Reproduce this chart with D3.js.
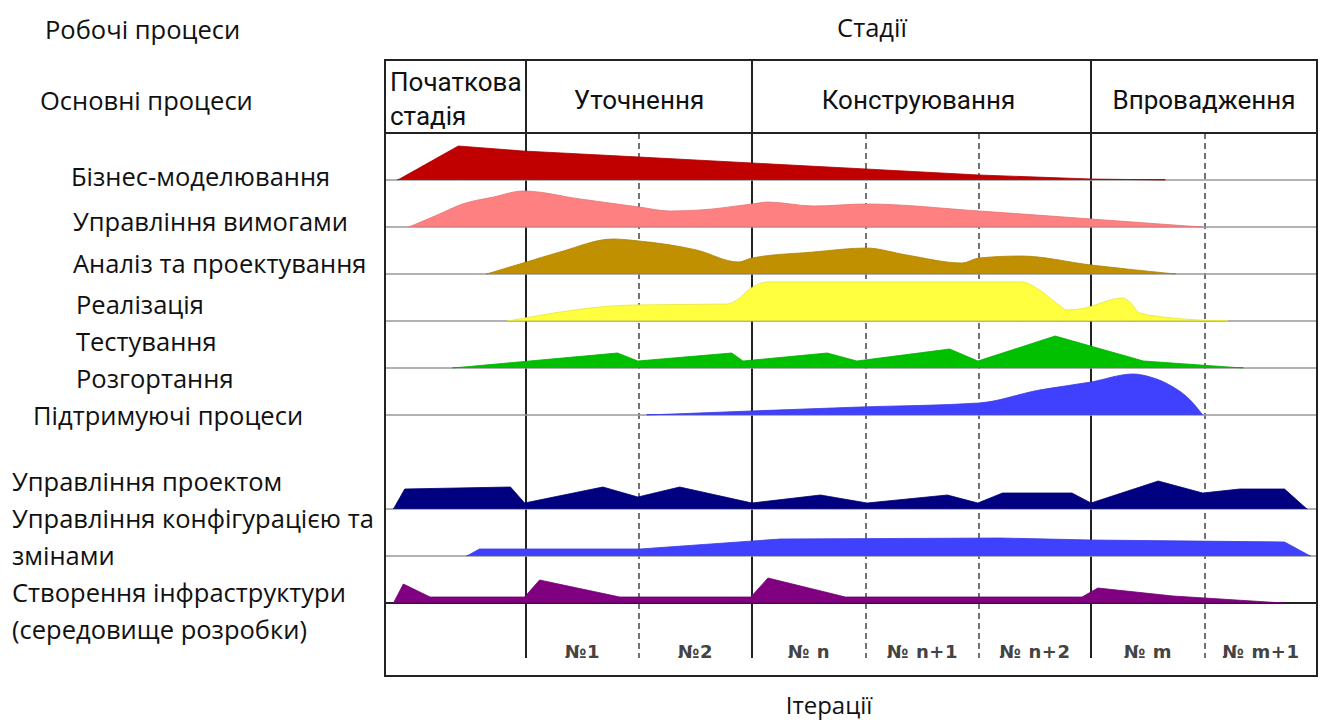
<!DOCTYPE html>
<html><head><meta charset="utf-8">
<script src="https://cdn.jsdelivr.net/npm/d3@7"></script>
<style>body{margin:0;background:#fff}svg{display:block}</style>
</head><body>
<script>
// ---------- DATA ----------
const phases = ["Початкова|стадія", "Уточнення", "Конструювання", "Впровадження"];
const phaseSpans = [[0,1],[1,3],[3,6],[6,8]];           // in iteration units
const iterations = ["", "№1", "№2", "№ n", "№ n+1", "№ n+2", "№ m", "№ m+1"];
const iterationDashed = [2,4,5,7];                       // iteration boundaries inside phases

const disciplines = ["Бізнес-моделювання","Управління вимогами","Аналіз та проектування",
  "Реалізація","Тестування","Розгортання","Управління проектом",
  "Управління конфігурацією та|змінами","Створення інфраструктури|(середовище розробки)"];

// effort profiles: [time (iteration units), effort]
const businessModeling = [[0.09,0],[0.52,34],[0.98,29],[2,23],[3,17],[4,11],[5,5],[6,1],[6.65,0]];
const requirements = [[0.17,0],[0.37,12],[0.55,23],[0.77,30],[0.98,36],[1.48,28],[2,20],[2.27,16],[2.54,17],[3,23],[3.14,25],[3.54,21],[4,23],[5,16],[6,8],[6.97,0]];
const analysisDesign = [[0.72,0],[0.98,11],[1.3,22],[1.77,35],[2,33],[2.51,24],[2.88,12],[3,16],[3.54,22],[4,26],[4.36,19],[4.85,11],[5,16],[5.37,18],[6,9],[6.74,0]];
const implementation = [[0.87,0],[1.95,16],[2.78,17],[2.88,22],[2.98,32],[3.14,39],[5.38,39],[5.54,31],[5.69,18],[5.79,11],[5.9,12],[6.28,23],[6.34,19],[6.43,8],[6.72,3],[7.2,0]];
const testing = [[0.48,0],[1.81,15],[1.99,7],[2.82,15],[2.92,7],[3.66,15],[3.92,7],[4.74,19],[4.99,7],[5.68,32],[6.46,7],[7.34,0]];
const deployment = [[2.07,0],[3.95,8],[5,12],[5.54,25],[6,33],[6.37,41],[6.52,38],[6.69,30],[6.87,15],[6.98,0]];
const projectMgmt = [[0.06,0],[0.14,20],[0.89,22],[0.99,6],[1.68,22],[1.99,12],[2.36,22],[3,6],[3.6,14],[4.01,6],[4.72,14],[4.99,6],[5.21,16],[5.83,16],[6,6],[6.59,28],[6.98,16],[7.31,20],[7.71,20],[7.91,0]];
const configMgmt = [[0.58,0],[0.67,7],[2.01,7],[3.25,17],[5.19,18],[6,16],[7.71,14],[7.94,0]];
const environment = [[0.06,0],[0.13,19],[0.32,6],[0.99,6],[1.12,23],[1.83,6],[2.99,6],[3.14,25],[3.82,6],[5.92,6],[6.06,15],[6.72,7],[7.7,0]];

const profiles = [businessModeling, requirements, analysisDesign, implementation, testing, deployment, projectMgmt, configMgmt, environment];

// ---------- STYLE / LAYOUT ----------
const colors = ["#C00000","#FF8080","#C09000","#FFFF40","#00C000","#4040FF","#000080","#4040FF","#800080"];
const smooth = [false,true,true,true,false,true,false,false,false];
const W = 1325, H = 725;
const xBounds = [385,526,639,752,866,979,1091,1205,1317];
const topY = 60, headerBottom = 133, rowH = 47, gridBottom = 658, boxBottom = 676;
const rowBaseline = i => headerBottom + rowH * (i < 6 ? i + 1 : i + 2);

const svg = d3.select("body").append("svg").attr("width", W).attr("height", H);
const x = d3.scaleLinear().domain(d3.range(9)).range(xBounds);
const h = d3.scaleLinear().domain([0, 40]).range([0, 40]);
const font = "'Open Sans', sans-serif";
const fs = 25.5;

// vertical lines (phase boundaries solid, iteration boundaries dashed)
const g = svg.append("g");
phaseSpans.slice(1).forEach(s => {
  g.append("line").attr("x1", x(s[0])).attr("x2", x(s[0])).attr("y1", topY).attr("y2", gridBottom)
    .attr("stroke", "#222").attr("stroke-width", 2);
});
iterationDashed.forEach(d => {
  g.append("line").attr("x1", x(d)).attr("x2", x(d)).attr("y1", headerBottom).attr("y2", gridBottom)
    .attr("stroke", "#444").attr("stroke-width", 1.5).attr("stroke-dasharray", "6,4");
});

// row baselines
profiles.forEach((p, i) => {
  g.append("line").attr("x1", x(0)).attr("x2", x(8)).attr("y1", rowBaseline(i)).attr("y2", rowBaseline(i))
    .attr("stroke", i === 8 ? "#222" : "#999").attr("stroke-width", i === 8 ? 2 : 1.5);
});

// areas
profiles.forEach((p, i) => {
  const b = rowBaseline(i);
  const area = d3.area().x(d => x(d[0])).y0(b - 0.5).y1(d => b - h(d[1]))
    .curve(smooth[i] ? d3.curveMonotoneX : d3.curveLinear);
  svg.append("path").attr("d", area(p)).attr("fill", colors[i])
    .attr("stroke", d3.color(colors[i]).darker(0.3)).attr("stroke-width", 0.8);
});

// outer box and header line
svg.append("rect").attr("x", x(0)).attr("y", topY).attr("width", x(8) - x(0)).attr("height", boxBottom - topY)
  .attr("fill", "none").attr("stroke", "#222").attr("stroke-width", 2);
svg.append("line").attr("x1", x(0)).attr("x2", x(8)).attr("y1", headerBottom).attr("y2", headerBottom)
  .attr("stroke", "#222").attr("stroke-width", 2);

// phase labels
phases.forEach((name, i) => {
  const s = phaseSpans[i];
  const lines = name.split("|");
  if (lines.length > 1) {
    lines.forEach((ln, k) => svg.append("text").attr("x", x(s[0]) + 5).attr("y", 91 + k * 34)
      .attr("font-family", "Roboto, sans-serif").attr("font-size", 26).attr("fill", "#111").text(ln));
  } else {
    svg.append("text").attr("x", (x(s[0]) + x(s[1])) / 2 - (i === 2 ? 3 : 0)).attr("y", 109).attr("text-anchor", "middle")
      .attr("font-family", "Roboto, sans-serif").attr("font-size", 26).attr("fill", "#111").text(name);
  }
});

// iteration labels
iterations.forEach((t, i) => {
  svg.append("text").attr("x", (x(i) + x(i + 1)) / 2).attr("y", 658).attr("text-anchor", "middle")
    .attr("font-family", "'DejaVu Sans', sans-serif").attr("font-size", 18).attr("font-weight", "bold")
    .attr("letter-spacing", 0.6).attr("fill", "#444").text(t);
});

// titles
svg.append("text").attr("x", 872).attr("y", 37).attr("text-anchor", "middle").attr("font-family", font)
  .attr("font-size", fs).attr("fill", "#111").text("Стадії");
svg.append("text").attr("x", 829).attr("y", 714).attr("text-anchor", "middle").attr("font-family", font)
  .attr("font-size", 24).attr("fill", "#111").text("Ітерації");
svg.append("text").attr("x", 45).attr("y", 39).attr("font-family", font)
  .attr("font-size", fs).attr("fill", "#111").text("Робочі процеси");
svg.append("text").attr("x", 40).attr("y", 110).attr("font-family", font)
  .attr("font-size", fs).attr("fill", "#111").text("Основні процеси");
svg.append("text").attr("x", 33).attr("y", 425).attr("font-family", font)
  .attr("font-size", fs).attr("fill", "#111").text("Підтримуючі процеси");

// discipline labels
const labelX = [71,73,73,76,76,76,12,12,12];
const labelY = [186,231,273,314,351,388,491,528,602];
disciplines.forEach((t, i) => {
  t.split("|").forEach((ln, k) => {
    svg.append("text").attr("x", labelX[i]).attr("y", labelY[i] + k * 37).attr("font-family", font)
      .attr("font-size", fs).attr("fill", "#111").text(ln);
  });
});
</script>
</body></html>
